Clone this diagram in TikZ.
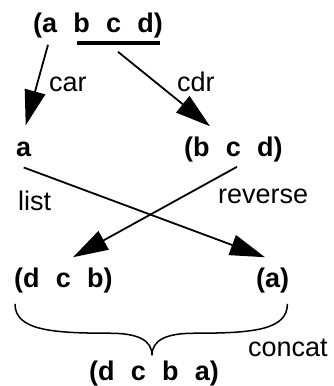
\documentclass[tikz,border=0pt]{standalone}
\usepackage{fontspec}
\setmainfont{Liberation Sans}
\usepackage{tikz}
\usetikzlibrary{arrows.meta}

\newcommand{\lgap}{\hspace{0.6em}}

\begin{document}
\begin{tikzpicture}[x=1pt, y=-1pt,
  lst/.style={inner sep=0pt, anchor=base west, font=\fontsize{27}{32}\selectfont\bfseries},
  lbl/.style={inner sep=0pt, anchor=base west, font=\fontsize{27}{32}\selectfont},
  arr/.style={line width=1.8pt, -{Triangle[length=35pt,width=21pt]}}]

\useasboundingbox (0,0) rectangle (334,386);

% Lista de partida
\node[lst] (abcd) at (33,32) {(a\lgap b\lgap c\lgap d)};
\draw[line width=4pt] ([xshift=44pt,yshift=-5pt]abcd.south west) -- ([xshift=-3pt,yshift=-5pt]abcd.south east);

% car y cdr
\node[lst] (a) at (16,156) {a};
\node[lst] (bcd) at (184,156) {(b\lgap c\lgap d)};
\node[lbl] (car) at (49,91.5) {car};
\node[lbl] (cdr) at (177,91.5) {cdr};
\draw[arr] ([xshift=15pt,yshift=-7pt]abcd.south west) -- ([xshift=2pt,yshift=16pt]a.north);
\draw[arr] ([xshift=85pt,yshift=-14pt]abcd.south west) -- ([xshift=26pt,yshift=10pt]bcd.north west);

% list y reverse
\node[lst] (dcb) at (14,287) {(d\lgap c\lgap b)};
\node[lst] (a1) at (256,287) {(a)};
\node[lbl] (list) at (18,210.7) {list};
\node[lbl] (reverse) at (218,203.3) {reverse};
\draw[arr] ([yshift=-11pt]a.south) -- ([xshift=9pt,yshift=10pt]a1.north west);
\draw[arr] ([xshift=53pt,yshift=-5pt]bcd.south west) -- ([xshift=59pt,yshift=10pt]dcb.north west);

% concat
\node[lst] (dcba) at (89,380) {(d\lgap c\lgap b\lgap a)};
\node[lbl] (concat) at (248,356.7) {concat};
\coordinate (bl) at ([xshift=1pt,yshift=-11pt]dcb.south west);
\coordinate (br) at ([xshift=-2pt,yshift=-11pt]a1.south east);
\coordinate (btip) at ([xshift=-2pt,yshift=5pt]dcba.north);
\draw[line width=1.5pt] (bl) .. controls +(0,26) and +(-60,0) .. ([xshift=-42pt,yshift=22pt]btip)
  .. controls +(28,0) and +(0,-15) .. (btip)
  .. controls +(0,-15) and +(-28,0) .. ([xshift=42pt,yshift=22pt]btip)
  .. controls +(60,0) and +(0,26) .. (br);

\end{tikzpicture}
\end{document}
